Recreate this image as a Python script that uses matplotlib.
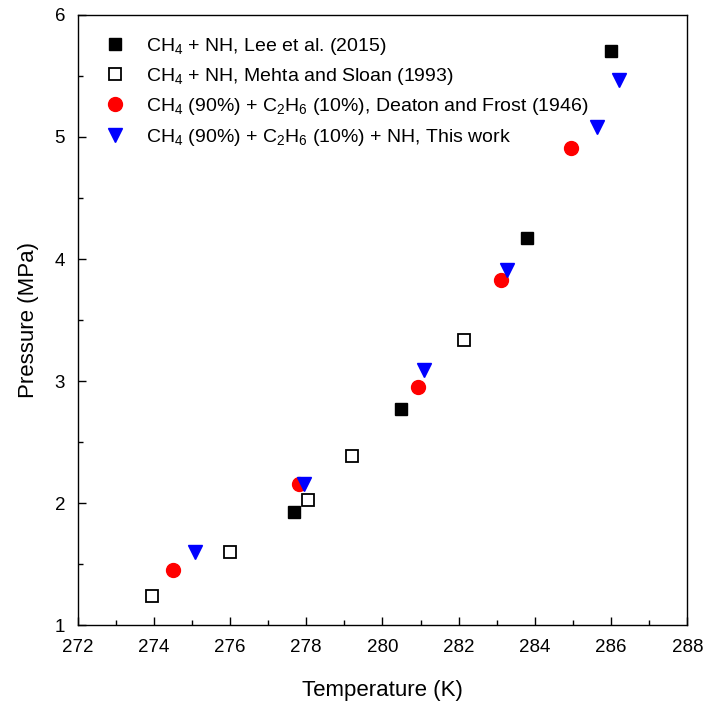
import matplotlib
matplotlib.use("Agg")
import matplotlib.pyplot as plt
from matplotlib.ticker import MultipleLocator

plt.rcParams['font.family'] = ['Liberation Sans', 'DejaVu Sans']
plt.rcParams['mathtext.fontset'] = 'custom'
plt.rcParams['mathtext.rm'] = 'Liberation Sans'

lee_T = [277.69, 280.49, 283.79, 286.0]
lee_P = [1.93, 2.77, 4.17, 5.70]

mehta_T = [273.95, 276.0, 278.04, 279.2, 282.14]
mehta_P = [1.24, 1.60, 2.03, 2.39, 3.34]

deaton_T = [274.5, 277.81, 280.92, 283.11, 284.95]
deaton_P = [1.45, 2.16, 2.95, 3.83, 4.91]

work_T = [275.07, 277.95, 281.1, 283.26, 285.64, 286.21]
work_P = [1.60, 2.16, 3.09, 3.91, 5.08, 5.47]

labels = [
    r'CH$_4$ + NH, Lee et al. (2015)',
    r'CH$_4$ + NH, Mehta and Sloan (1993)',
    r'CH$_4$ (90%) + C$_2$H$_6$ (10%), Deaton and Frost (1946)',
    r'CH$_4$ (90%) + C$_2$H$_6$ (10%) + NH, This work',
]

fig = plt.figure(figsize=(7.05, 7.05), dpi=100)
ax = fig.add_axes([0.110, 0.113, 0.865, 0.866])

ax.plot(lee_T, lee_P, 's', color='black', markersize=8.5, linestyle='none', label=labels[0])
ax.plot(mehta_T, mehta_P, 's', markerfacecolor='white', markeredgecolor='black',
        markeredgewidth=1.3, markersize=8.5, linestyle='none', label=labels[1])
ax.plot(deaton_T, deaton_P, 'o', color='red', markersize=10, linestyle='none', label=labels[2])
ax.plot(work_T, work_P, 'v', color='blue', markersize=10, linestyle='none', label=labels[3])

ax.set_xlim(272, 288)
ax.set_ylim(1, 6)
ax.xaxis.set_major_locator(MultipleLocator(2))
ax.xaxis.set_minor_locator(MultipleLocator(1))
ax.yaxis.set_major_locator(MultipleLocator(1))
ax.yaxis.set_minor_locator(MultipleLocator(0.5))
ax.tick_params(which='both', direction='in', top=False, right=False, labelsize=13.5, width=1)
ax.tick_params(which='major', length=6)
ax.tick_params(which='minor', length=3.5)
ax.tick_params(axis='x', which='major', pad=10)
ax.tick_params(axis='y', which='major', pad=9)
for s in ax.spines.values():
    s.set_linewidth(1.0)

ax.set_xlabel('Temperature (K)', fontsize=16, labelpad=17)
ax.set_ylabel('Pressure (MPa)', fontsize=16, labelpad=11)

ax.legend(loc='upper left', frameon=False, fontsize=14, handletextpad=0.6,
          labelspacing=0.48, bbox_to_anchor=(0.01, 0.985), borderaxespad=0.2)

fig.savefig('out.png', dpi=100)
